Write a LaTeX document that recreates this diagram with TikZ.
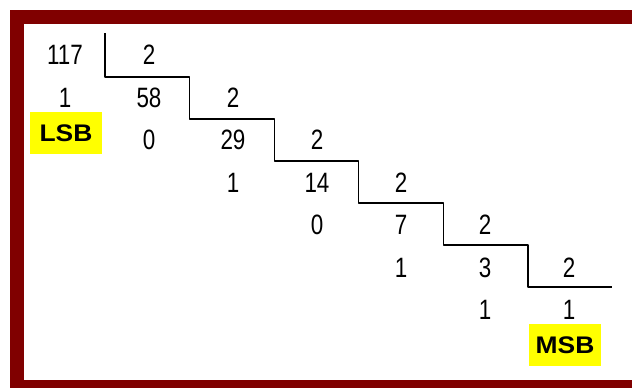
\documentclass[tikz,border=0pt]{standalone}
\usepackage{fontspec}
\setmainfont{Liberation Sans}
\usepackage{tikz}
\definecolor{framered}{HTML}{800000}
\definecolor{bityellow}{HTML}{FFFF00}
\newcommand{\narrow}[1]{\scalebox{0.8}[1]{#1}}

\begin{document}
\begin{tikzpicture}[line cap=round,line join=round,x=0.75pt,y=-0.75pt,
	num/.style={font=\fontsize{21}{24}\selectfont,inner sep=0pt},
	bitbox/.style={fill=bityellow,font=\fontsize{18}{20}\selectfont\bfseries,minimum width=54pt,minimum height=31.5pt,inner sep=0pt}]
	\useasboundingbox (0,0) rectangle (632,387);
	\clip (0,0) rectangle (632,387);
	\draw[color=framered,line width=10.5pt,line cap=butt,line join=miter] (17,17) rectangle (660,387);
	% quotients, divisors and remainders
	\foreach \q [count=\k from 0] in {117,58,29,14,7,3,1}
	\node[num] (q\k) at ({65+84*\k},{55+42.5*\k}) {\narrow{\q}};
	\foreach \k in {1,...,6}
	\node[num] (d\k) at ({65+84*\k},{55+42.5*(\k-1)}) {\narrow{2}};
	\foreach \r [count=\k from 0] in {1,0,1,0,1,1}
	\node[num] (r\k) at ({65+84*\k},{55+42.5*(\k+1)}) {\narrow{\r}};
	\node[bitbox] (lsb) at (66,133) {\scalebox{1.1}[1]{LSB}};
	\node[bitbox] (msb) at (565,345) {\scalebox{1.1}[1]{MSB}};
	% stairs
	\draw[color=black,line width=0.8pt,line cap=butt] (105,33)
	\foreach \k in {0,...,4} { -- ({105+84.6*\k},{77+42*\k}) -- ({105+84.6*(\k+1)},{77+42*\k}) }
	-- (528,287) -- (612,287);
\end{tikzpicture}
\end{document}
